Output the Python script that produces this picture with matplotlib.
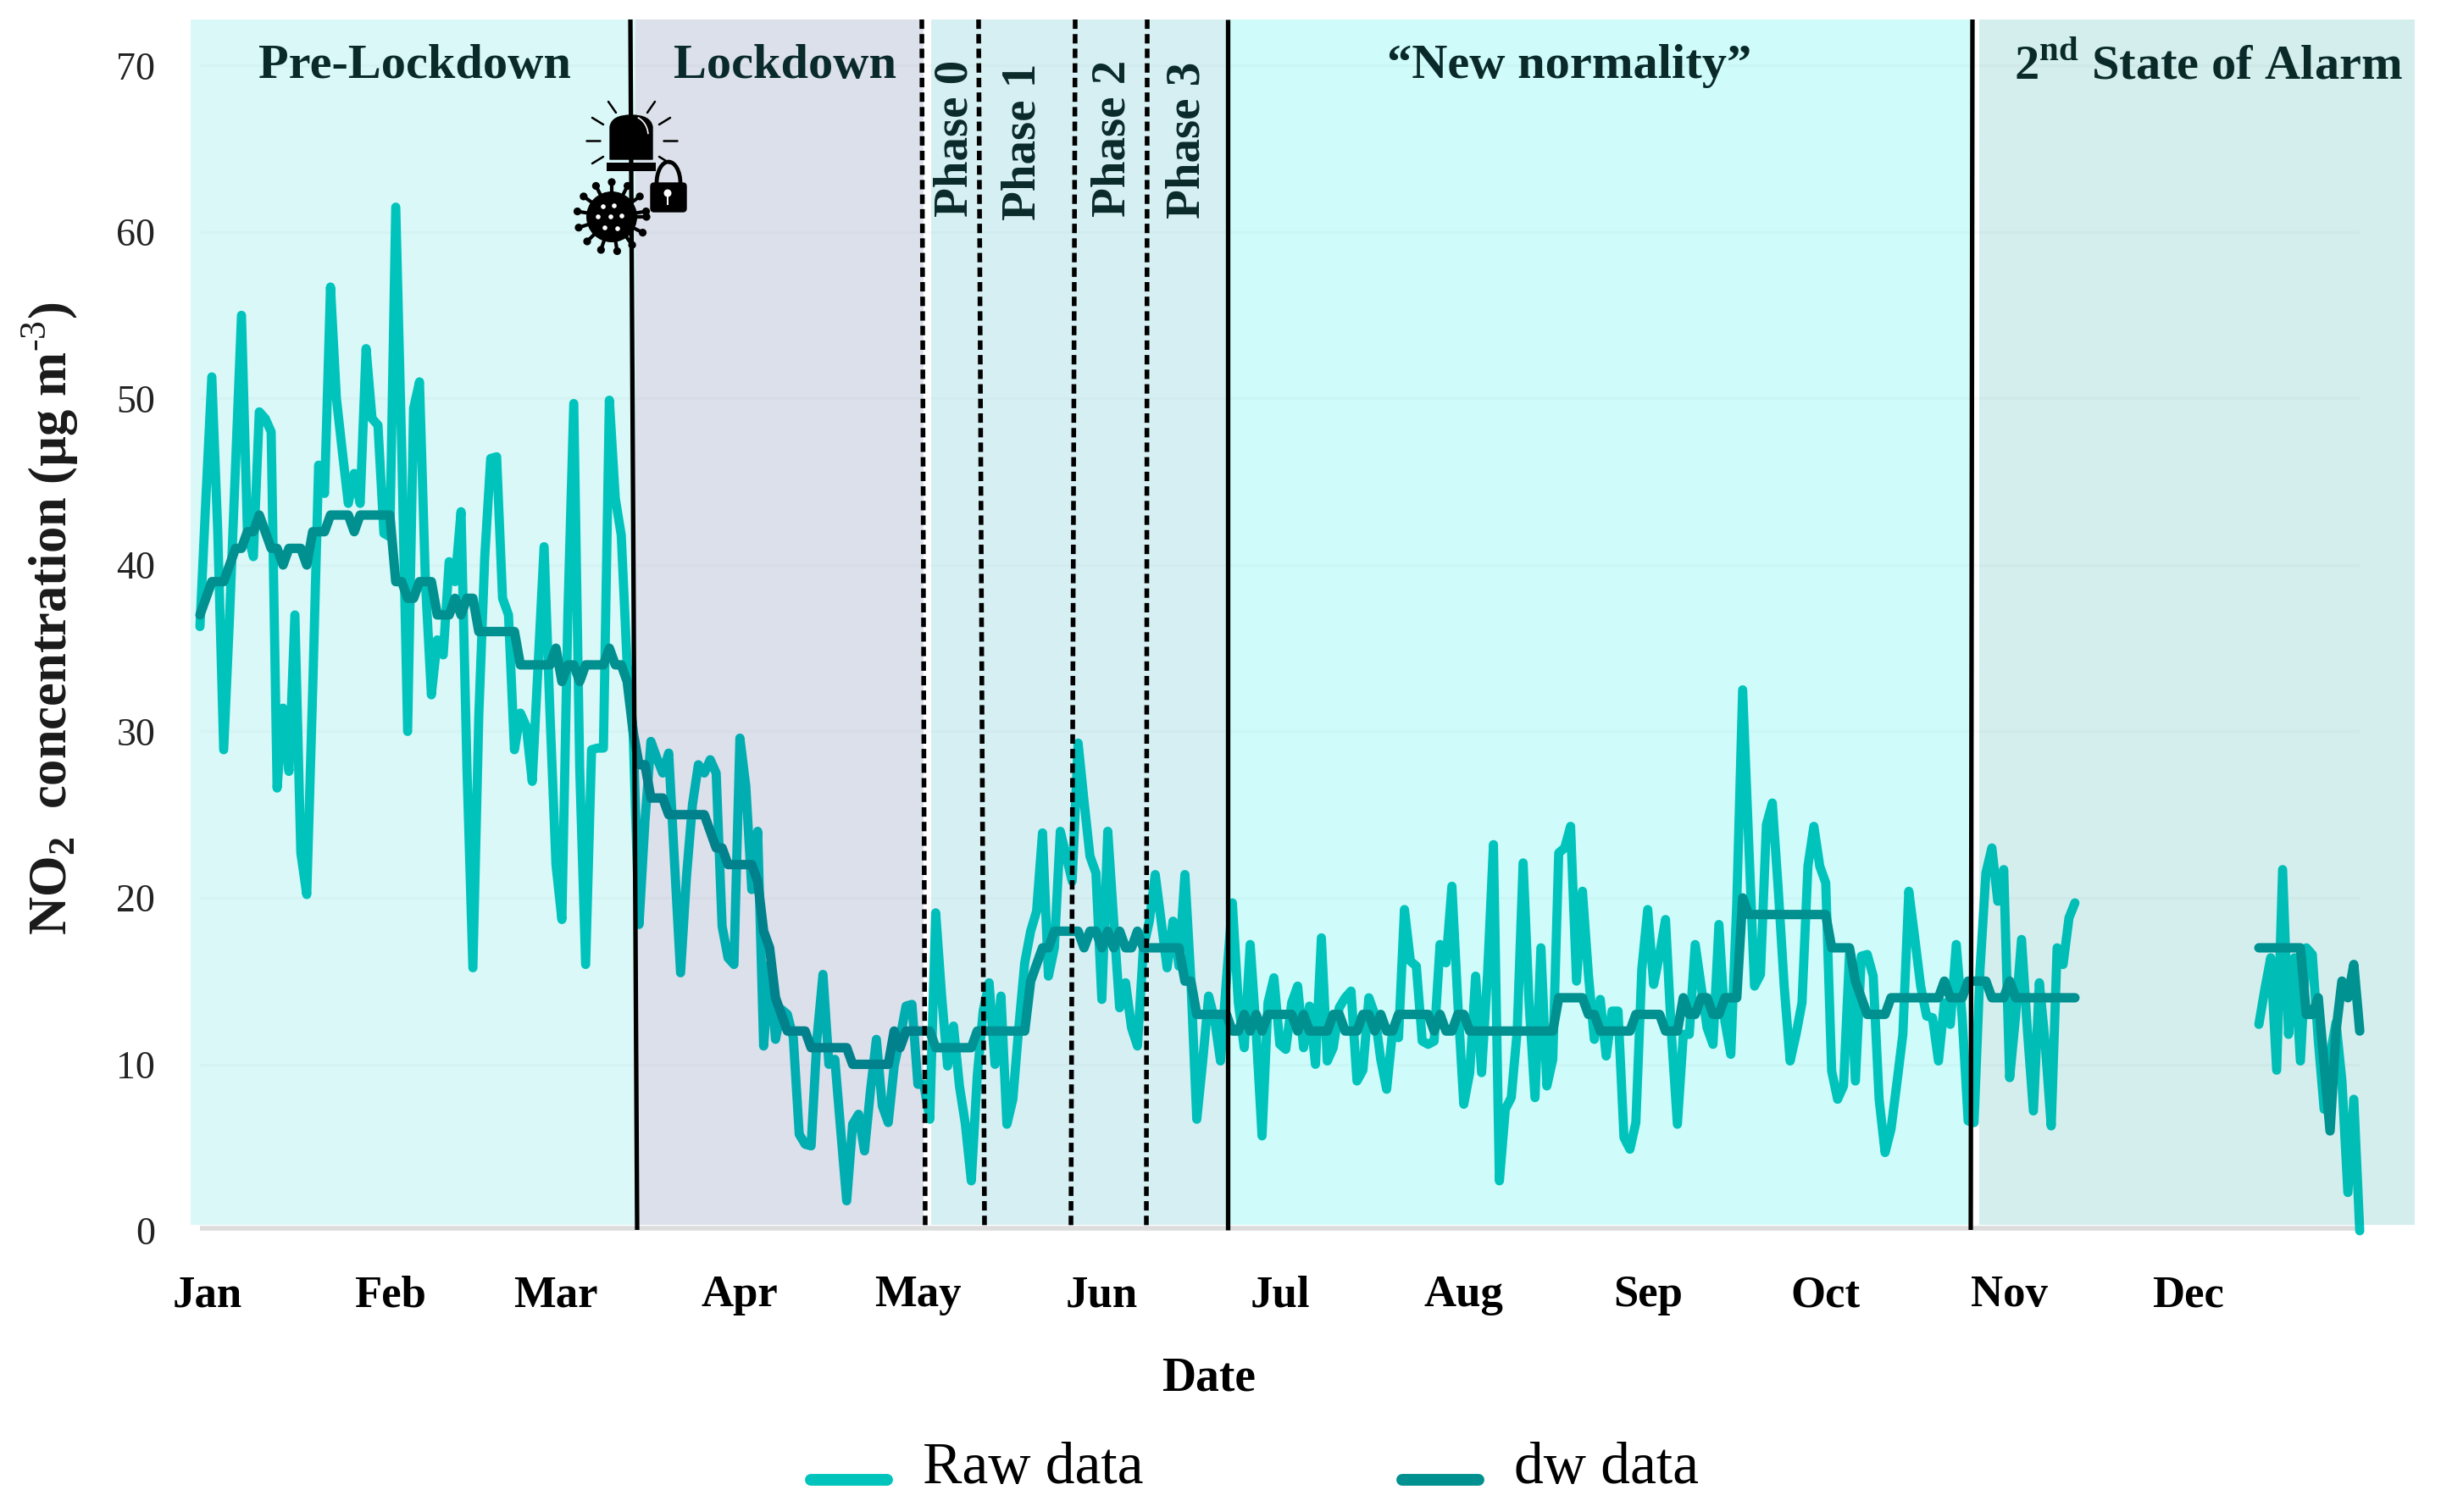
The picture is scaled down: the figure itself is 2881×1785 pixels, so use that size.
from __future__ import annotations

import matplotlib

matplotlib.use("Agg")

import matplotlib.pyplot as plt
import numpy as np
from matplotlib.legend_handler import HandlerLine2D
from matplotlib.lines import Line2D
from matplotlib.patches import Arc, Circle, FancyBboxPatch, PathPatch, Rectangle
from matplotlib.path import Path as MplPath

FIG_W = 2881
FIG_H = 1785

MONTHS = ["Jan", "Feb", "Mar", "Apr", "May", "Jun", "Jul", "Aug", "Sep", "Oct", "Nov", "Dec"]
# label positions, in days from 1 Jan
MONTH_TICKS = [1.3, 32, 60, 91, 121, 152, 182, 213, 244, 274, 305, 335]
Y_TICKS = [0, 10, 20, 30, 40, 50, 60, 70]

# daily values from 1 Jan, then a gap until mid December
RAW_FIRST_DAY = 0
RAW_MAIN = [
    36.3, 44, 51.3, 42, 28.9, 37, 46, 55, 42, 40.5,
    49.2, 48.8, 48, 26.6, 31.4, 27.6, 37, 22.7, 20.2, 32.5,
    46, 44.3, 56.7, 50, 46.8, 43.7, 45.5, 43.7, 53, 48.8,
    48.4, 41.9, 41.7, 61.5, 47, 30, 49.4, 51, 39, 32.2,
    35.5, 34.6, 40.2, 39, 43.2, 27.8, 15.8, 31, 40.5, 46.4,
    46.5, 38, 37, 28.9, 31.1, 30.3, 27, 34, 41.1, 31,
    22, 18.7, 37, 49.7, 27.8, 16, 28.9, 29, 29, 49.9,
    44, 41.8, 34, 30, 18.4, 24.6, 29.4, 28.4, 27.5, 28.7,
    22, 15.5, 21.3, 25.6, 28, 27.5, 28.3, 27.5, 18.3, 16.4,
    16, 29.6, 26.7, 20.5, 24, 11.1, 16, 11.5, 13.3, 13,
    11.6, 5.8, 5.2, 5.1, 11.6, 15.4, 10, 10.3, 6, 1.8,
    6.4, 7, 4.8, 8.4, 11.5, 7.5, 6.5, 9.9, 11.6, 13.5,
    13.6, 8.8, 8.8, 6.7, 19.1, 14.1, 9.9, 12.3, 8.7, 6.4,
    3, 9.3, 13.2, 14.9, 10, 14.1, 6.4, 7.9, 12.2, 16.1,
    18, 19.2, 23.9, 15.3, 17, 24, 22.5, 21, 29.3, 25.8,
    22.5, 21.5, 13.9, 24, 18.6, 13.4, 14.9, 12.2, 11.1, 17,
    18.6, 21.4, 18.6, 15.8, 18.6, 15.9, 21.4, 15.1, 6.7, 10.2,
    14.1, 12.7, 10.2, 15.1, 19.7, 13.7, 11, 17.2, 12, 5.7,
    13.7, 15.2, 11.2, 10.9, 13.7, 14.7, 11, 13.5, 10, 17.6,
    10.2, 11, 13.4, 14, 14.4, 9, 9.65, 14, 13, 10.3,
    8.5, 12, 11.6, 19.3, 16.2, 15.9, 11.4, 11.2, 11.4, 17.2,
    16.1, 20.7, 13.7, 7.6, 9.5, 15.3, 9.5, 15.4, 23.2, 3,
    7.3, 8, 12, 22.1, 13.7, 8, 17, 8.7, 10.3, 22.7,
    23, 24.3, 15, 20.4, 15.4, 11.5, 13.9, 10.5, 13.2, 13.2,
    5.6, 4.9, 6.5, 15.7, 19.3, 14.8, 16.6, 18.7, 11.8, 6.4,
    11.8, 11.8, 17.2, 14.7, 12.2, 11.2, 18.4, 12.6, 10.6, 19.6,
    32.5, 23.5, 14.7, 15.4, 24.4, 25.7, 20.5, 14.7, 10.2, 11.8,
    13.7, 21.9, 24.3, 21.9, 20.9, 9.6, 7.9, 8.7, 16.6, 9,
    16.5, 16.6, 15.3, 7.9, 4.7, 6.1, 8.9, 11.8, 20.4, 17.6,
    14.7, 12.9, 12.8, 10.2, 13.7, 12.4, 17.2, 12.8, 6.6, 6.5,
    15.7, 21.5, 23, 19.8, 21.7, 9.2, 12.9, 17.5, 12, 7.2,
    14.9, 11.2, 6.3, 17, 16, 18.8, 19.7,
]
DW_MAIN = [
    37, 38, 39, 39, 39, 40, 41, 41, 42, 42,
    43, 42, 41, 41, 40, 41, 41, 41, 40, 42,
    42, 42, 43, 43, 43, 43, 42, 43, 43, 43,
    43, 43, 43, 39, 39, 38, 38, 39, 39, 39,
    37, 37, 37, 38, 37, 38, 38, 36, 36, 36,
    36, 36, 36, 36, 34, 34, 34, 34, 34, 34,
    35, 33, 34, 34, 33, 34, 34, 34, 34, 35,
    34, 34, 33, 30, 28, 28, 26, 26, 26, 25,
    25, 25, 25, 25, 25, 25, 24, 23, 23, 22,
    22, 22, 22, 22, 21, 18, 17, 14, 13, 12,
    12, 12, 12, 11, 11, 11, 11, 11, 11, 11,
    10, 10, 10, 10, 10, 10, 10, 12, 11, 12,
    12, 12, 12, 12, 11, 11, 11, 11, 11, 11,
    11, 12, 12, 12, 12, 12, 12, 12, 12, 12,
    15, 16, 17, 17, 18, 18, 18, 18, 18, 17,
    18, 18, 17, 18, 17, 18, 17, 17, 18, 17,
    17, 17, 17, 17, 17, 17, 15, 15, 13, 13,
    13, 13, 13, 13, 12, 12, 13, 12, 13, 12,
    13, 13, 13, 13, 13, 12, 13, 12, 12, 12,
    12, 13, 13, 12, 12, 12, 13, 13, 12, 13,
    12, 12, 13, 13, 13, 13, 13, 13, 12, 13,
    12, 12, 13, 13, 12, 12, 12, 12, 12, 12,
    12, 12, 12, 12, 12, 12, 12, 12, 12, 14,
    14, 14, 14, 14, 13, 13, 12, 12, 12, 12,
    12, 12, 13, 13, 13, 13, 13, 12, 12, 12,
    14, 13, 13, 14, 14, 13, 13, 14, 14, 14,
    20, 19, 19, 19, 19, 19, 19, 19, 19, 19,
    19, 19, 19, 19, 19, 17, 17, 17, 17, 15,
    14, 13, 13, 13, 13, 14, 14, 14, 14, 14,
    14, 14, 14, 14, 15, 14, 14, 14, 15, 15,
    15, 15, 14, 14, 14, 15, 14, 14, 14, 14,
    14, 14, 14, 14, 14, 14, 14,
]
DEC_FIRST_DAY = 347
RAW_DEC = [12.4, 14.5, 16.4, 9.65, 21.7, 11.8, 16.4, 10.2, 17, 16.6, 11.5, 7.3, 10.5, 12.5, 9, 2.3, 7.9, 0]
DW_DEC = [17, 17, 17, 17, 17, 17, 17, 17, 13, 13, 14, 10, 6, 12, 15, 14, 16, 12]

COLOR_RAW = "#00c4bc"
COLOR_DW = "#009090"

# pixel calibration of the value scale
X0_PX = 236.0
DAY_PX = 7.003
Y0_PX = 1453.0
UNIT_PX = 19.65
AX_LEFT = 225.0
AX_RIGHT = 2852.0
AX_TOP = 23.0
AX_BOTTOM = 1462.0

SERIF = "Liberation Serif"


def day_at(px: float) -> float:
    return (px - X0_PX) / DAY_PX


def value_at(py: float) -> float:
    return (Y0_PX - py) / UNIT_PX


def fx(px: float) -> float:
    return px / FIG_W


def fy(py: float) -> float:
    return 1 - py / FIG_H


def add_band(ax, left: float, right: float, color, alpha: float, zorder: float) -> None:
    bottom = value_at(1446)
    top = value_at(AX_TOP)
    ax.add_patch(
        Rectangle(
            (day_at(left), bottom),
            day_at(right) - day_at(left),
            top - bottom,
            facecolor=color,
            alpha=alpha,
            edgecolor="none",
            zorder=zorder,
        )
    )


def draw_bands(ax) -> None:
    # the two light bands sit under the lines, the others tint them
    add_band(ax, AX_LEFT, 750, "#daf8f8", 1, 1)
    add_band(ax, 1450, 2327, "#cffcfa", 1, 1)
    add_band(ax, 750, 1090, (5 / 255, 40 / 255, 112 / 255), 0.14, 4)
    add_band(ax, 1099, 1450, (0, 161 / 255, 180 / 255), 0.16, 4)
    add_band(ax, 2336, 2850, (0, 155 / 255, 155 / 255), 0.17, 4)


def draw_dividers(ax) -> None:
    y_low = value_at(1452)
    y_high = value_at(AX_TOP)
    solid = [(744, 752), (1449, 1449), (2328, 2326)]
    dashed = [(1088, 1092), (1155, 1162), (1269, 1264), (1354, 1353)]

    for top, bottom in solid:
        ax.plot([day_at(top), day_at(bottom)], [y_high, y_low], color="black", lw=3.8, zorder=5, solid_capstyle="butt")

    for top, bottom in dashed:
        ax.plot(
            [day_at(top), day_at(bottom)],
            [y_high, y_low],
            color="black",
            lw=4,
            dashes=(2.0, 1.1),
            zorder=5,
        )


def draw_region_labels(ax) -> None:
    labels = [
        ("Pre-Lockdown", 489, 78, 0),
        ("Lockdown", 927, 78, 0),
        ("Phase 0", 1127, 163, 90),
        ("Phase 1", 1207, 167, 90),
        ("Phase 2", 1313, 163, 90),
        ("Phase 3", 1402, 165, 90),
        ("\u201cNew normality\u201d", 1852, 78, 0),
        ("2$^{\\mathbf{nd}}$ State of Alarm", 2606, 78, 0),
    ]
    trans = ax.figure.transFigure
    for text, px, py, rotation in labels:
        ax.text(
            fx(px),
            fy(py),
            text,
            transform=trans,
            rotation=rotation,
            ha="center",
            va="center",
            fontsize=42 if rotation == 0 else 41,
            fontweight="bold",
            color="#0a2a2a",
            zorder=6,
        )


def draw_icons(fig) -> None:
    # crop of the figure in pixel coordinates
    ax = fig.add_axes([fx(640), fy(330), 240 / FIG_W, 230 / FIG_H])
    ax.set_xlim(640, 880)
    ax.set_ylim(330, 100)
    ax.axis("off")

    # siren
    dome = MplPath(
        [(720, 188), (720, 150), (722, 136), (745, 136), (768, 136), (770, 150), (770, 188), (720, 188)],
        [MplPath.MOVETO, MplPath.LINETO, MplPath.CURVE3, MplPath.CURVE3, MplPath.CURVE3, MplPath.CURVE3, MplPath.LINETO, MplPath.CLOSEPOLY],
    )
    ax.add_patch(PathPatch(dome, facecolor="black", edgecolor="black", lw=1))
    ax.add_patch(Arc((745, 160), 40, 46, theta1=290, theta2=355, color="white", lw=1.2))
    ax.add_patch(Rectangle((716, 192), 58, 10, facecolor="black", edgecolor="none"))
    rays = [
        ((718, 120), (727, 133)),
        ((773, 120), (764, 133)),
        ((699, 139), (712, 147)),
        ((791, 139), (778, 147)),
        ((692, 166), (708, 166)),
        ((783, 166), (799, 166)),
        ((699, 193), (712, 185)),
        ((778, 185), (791, 193)),
    ]
    for start, end in rays:
        ax.plot([start[0], end[0]], [start[1], end[1]], color="black", lw=1.8, solid_capstyle="round")

    # padlock
    ax.add_patch(FancyBboxPatch((768, 216), 42, 34, boxstyle="round,pad=0,rounding_size=4", facecolor="black", edgecolor="black", lw=1))
    ax.add_patch(Arc((789, 216), 28, 50, theta1=180, theta2=360, color="black", lw=3.4))
    ax.add_patch(Circle((788, 228), 4.5, facecolor="white", edgecolor="none"))
    ax.add_patch(Rectangle((786.6, 229), 2.8, 13, facecolor="white", edgecolor="none"))

    # virus
    cx, cy = 722, 256
    ax.add_patch(Circle((cx, cy), 30, facecolor="black", edgecolor="none"))
    for angle in np.arange(0, 360, 27):
        cos_a, sin_a = np.cos(np.radians(angle)), np.sin(np.radians(angle))
        ax.plot([cx + 26 * cos_a, cx + 41 * cos_a], [cy + 26 * sin_a, cy + 41 * sin_a], color="black", lw=3)
        ax.add_patch(Circle((cx + 41 * cos_a, cy + 41 * sin_a), 4.6, facecolor="black", edgecolor="none"))
    holes = [(712, 244), (725, 243), (706, 256), (721, 256), (734, 255), (714, 269), (729, 270)]
    for hole in holes:
        ax.add_patch(Circle(hole, 2.8, facecolor="white", edgecolor="none"))


def lower_handle(handle, orig) -> None:
    handle.update_from(orig)
    handle.set_ydata(handle.get_ydata() - 15)
    handle.set_linewidth(10)
    handle.set_solid_capstyle("round")


def main() -> None:
    plt.rcParams["font.family"] = [SERIF, "DejaVu Serif"]
    plt.rcParams["mathtext.fontset"] = "custom"
    plt.rcParams["mathtext.rm"] = SERIF
    plt.rcParams["mathtext.bf"] = f"{SERIF}:bold"

    fig = plt.figure(figsize=(FIG_W / 100, FIG_H / 100), dpi=100)
    ax = fig.add_axes([fx(AX_LEFT), fy(AX_BOTTOM), (AX_RIGHT - AX_LEFT) / FIG_W, (AX_BOTTOM - AX_TOP) / FIG_H])
    ax.set_xlim(day_at(AX_LEFT), day_at(AX_RIGHT))
    ax.set_ylim(value_at(AX_BOTTOM), value_at(AX_TOP))

    draw_bands(ax)

    last_day = DEC_FIRST_DAY + len(RAW_DEC) - 1
    ax.hlines(Y_TICKS[1:], 0, last_day, color="black", alpha=0.018, lw=2.5, zorder=1.5)
    ax.hlines(value_at(1450), 0, last_day, color="#dcdcdc", lw=4, zorder=1.5)

    main_days = RAW_FIRST_DAY + np.arange(len(RAW_MAIN))
    dec_days = DEC_FIRST_DAY + np.arange(len(RAW_DEC))
    line_kw = {"solid_joinstyle": "round", "solid_capstyle": "round"}
    raw_line, = ax.plot(main_days, RAW_MAIN, color=COLOR_RAW, lw=7.8, zorder=2, label="Raw data", **line_kw)
    ax.plot(dec_days, RAW_DEC, color=COLOR_RAW, lw=7.8, zorder=2, **line_kw)
    dw_line, = ax.plot(main_days, DW_MAIN, color=COLOR_DW, lw=8, zorder=3, label="dw data", **line_kw)
    ax.plot(dec_days, DW_DEC, color=COLOR_DW, lw=8, zorder=3, **line_kw)

    draw_dividers(ax)
    draw_region_labels(ax)

    for spine in ax.spines.values():
        spine.set_visible(False)
    ax.set_xticks(MONTH_TICKS, MONTHS, fontsize=38, fontweight="bold")
    ax.set_yticks(Y_TICKS, [str(v) for v in Y_TICKS], fontsize=33, color="#222222")
    ax.tick_params(axis="x", length=0, pad=31)
    ax.tick_params(axis="y", length=0, pad=30)

    ax.set_xlabel("Date", fontsize=40, fontweight="bold", va="center")
    ax.xaxis.set_label_coords(fx(1427), fy(1627), transform=fig.transFigure)
    ax.set_ylabel("NO$_{\\mathregular{2}}$  concentration (\u00b5g m$^{\\text{-3}}$)", fontsize=45, fontweight="bold", color="#1a1a1a", va="center")
    ax.yaxis.set_label_coords(fx(59), fy(730), transform=fig.transFigure)

    fig.legend(
        handles=[raw_line, dw_line],
        loc="center",
        bbox_to_anchor=(fx(1481), fy(1734)),
        ncols=2,
        frameon=False,
        fontsize=50,
        handlelength=1.3,
        handletextpad=0.6,
        columnspacing=4.4,
        handler_map={Line2D: HandlerLine2D(update_func=lower_handle)},
    )

    draw_icons(fig)

    fig.savefig("out.png", dpi=100)
    plt.close(fig)


if __name__ == "__main__":
    main()
